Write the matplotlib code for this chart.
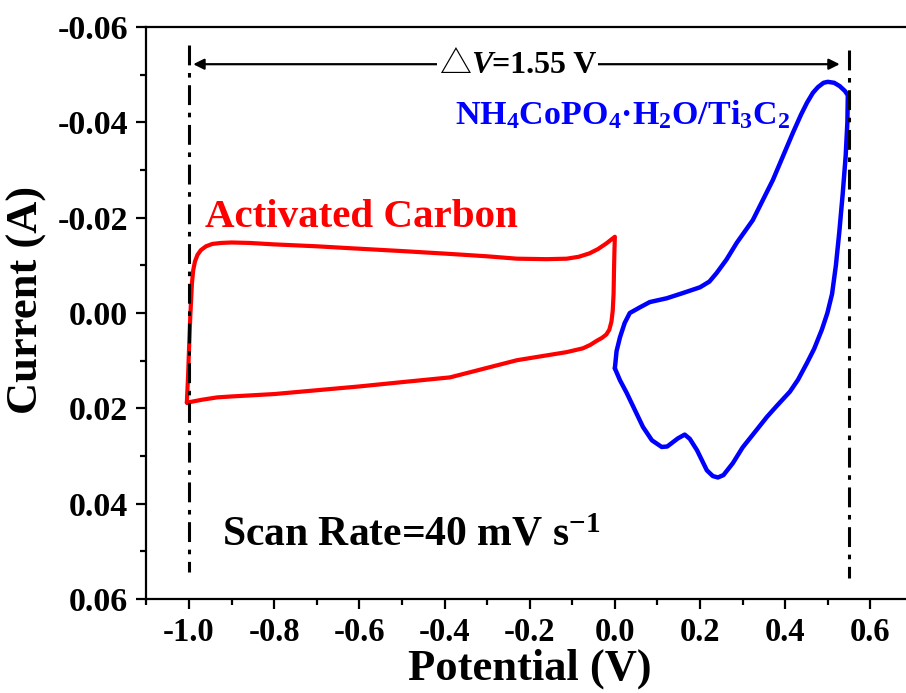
import matplotlib
matplotlib.use("Agg")
import matplotlib.pyplot as plt
from matplotlib.ticker import MultipleLocator, FormatStrFormatter
from matplotlib.offsetbox import TextArea, HPacker, AnnotationBbox

plt.rcParams['font.family'] = ['Liberation Serif', 'DejaVu Serif']
plt.rcParams['font.weight'] = 'bold'
plt.rcParams['axes.unicode_minus'] = False
plt.rcParams['mathtext.fontset'] = 'custom'
plt.rcParams['mathtext.rm'] = 'Liberation Serif:bold'
plt.rcParams['mathtext.it'] = 'Liberation Serif:bold:italic'
plt.rcParams['mathtext.bf'] = 'Liberation Serif:bold'

# Activated carbon CV loop (potential V, current A)
ac_potential = [-1.005, -1.002, -1.000, -0.997, -0.993, -0.990, -0.986, -0.980,
                -0.972, -0.960, -0.945, -0.925, -0.900, -0.857, -0.800, -0.700,
                -0.622, -0.500, -0.387, -0.300, -0.230, -0.160, -0.113, -0.085,
                -0.060, -0.040, -0.020, 0.000, -0.001, -0.002, -0.003, -0.005,
                -0.008, -0.013, -0.020, -0.030, -0.042, -0.058, -0.075, -0.113,
                -0.230, -0.387, -0.500, -0.600, -0.700, -0.800, -0.900, -0.934,
                -0.970, -1.005]
ac_current = [0.0188, 0.0130, 0.0078, 0.0009, -0.0063, -0.0090, -0.0108, -0.0122,
              -0.0132, -0.0140, -0.0145, -0.0147, -0.0148, -0.0147, -0.0144, -0.0140,
              -0.0136, -0.0130, -0.0124, -0.0119, -0.0114, -0.0113, -0.0114, -0.0118,
              -0.0125, -0.0134, -0.0146, -0.0160, -0.0130, -0.0090, -0.0040, -0.0005,
              0.0018, 0.0035, 0.0045, 0.0052, 0.0058, 0.0067, 0.0074, 0.0082,
              0.0099, 0.0135, 0.0145, 0.0154, 0.0162, 0.0170, 0.0175, 0.0177,
              0.0182, 0.0188]

# NH4CoPO4·H2O/Ti3C2 CV loop
nc_potential = [0.000, 0.004, 0.012, 0.023, 0.035, 0.059, 0.082, 0.122,
                0.160, 0.200, 0.222, 0.239, 0.262, 0.286, 0.324, 0.371,
                0.418, 0.437, 0.451, 0.465, 0.477, 0.490, 0.500, 0.515,
                0.528, 0.540, 0.547, 0.546, 0.542, 0.535, 0.527, 0.519,
                0.510, 0.499, 0.486, 0.468, 0.451, 0.430, 0.411, 0.380,
                0.357, 0.333, 0.300, 0.277, 0.255, 0.242, 0.230, 0.216,
                0.193, 0.176, 0.164, 0.148, 0.123, 0.110, 0.087, 0.066,
                0.028, 0.012, 0.000]
nc_current = [0.0116, 0.0080, 0.0051, 0.0021, 0.0000, -0.0012, -0.0023, -0.0031,
              -0.0042, -0.0054, -0.0066, -0.0084, -0.0112, -0.0147, -0.0195, -0.0279,
              -0.0378, -0.0416, -0.0441, -0.0462, -0.0474, -0.0483, -0.0485, -0.0483,
              -0.0476, -0.0466, -0.0457, -0.0400, -0.0330, -0.0250, -0.0170, -0.0100,
              -0.0040, 0.0000, 0.0035, 0.0075, 0.0105, 0.0140, 0.0165, 0.0195,
              0.0218, 0.0245, 0.0282, 0.0315, 0.0340, 0.0345, 0.0342, 0.0330,
              0.0288, 0.0264, 0.0255, 0.0263, 0.0280, 0.0281, 0.0267, 0.0239,
              0.0168, 0.0141, 0.0116]

window_left = -1.0
window_right = 0.55
delta_v = 1.55

fig = plt.figure(figsize=(9.06, 6.93), dpi=100)
ax = fig.add_axes([0.1611, 0.1356, 0.8466, 0.8254])

ax.plot(ac_potential, ac_current, color='#ff0000', lw=3.0,
        solid_joinstyle='round', solid_capstyle='round')
ax.plot(nc_potential, nc_current, color='#0000ff', lw=3.2,
        solid_joinstyle='round', solid_capstyle='round')

# potential window markers
dash = (6.5, 2.5, 1.5, 2.5)
ax.plot([window_left, window_left], [-0.0562, 0.0544], color='black', lw=2.2,
        dashes=dash)
ax.plot([window_right, window_right], [-0.0552, 0.0556], color='black', lw=2.2,
        dashes=dash)

arrow_y = -0.0522
ax.annotate('', xy=(window_left + 0.01, arrow_y), xytext=(0.528, arrow_y),
            arrowprops=dict(arrowstyle='<|-|>', lw=1.6, color='black',
                            mutation_scale=16, shrinkA=0, shrinkB=0))

tsize = 23
label_parts = HPacker(children=[
    TextArea('△', textprops=dict(family=['Noto Sans CJK SC', 'DejaVu Sans'],
                                 fontweight='normal', size=tsize, color='black')),
    TextArea('V', textprops=dict(family='Liberation Serif', fontweight='bold',
                                 fontstyle='italic', size=tsize, color='black')),
    TextArea('=%.2f V' % delta_v, textprops=dict(family='Liberation Serif',
                                                fontweight='bold', size=tsize,
                                                color='black')),
], align='baseline', pad=0, sep=0)
ab = AnnotationBbox(label_parts, (-0.228, arrow_y), xycoords='data',
                    box_alignment=(0.5, 0.5), frameon=True, pad=0.1,
                    bboxprops=dict(facecolor='white', edgecolor='none'))
ax.add_artist(ab)

ax.text(-0.376, -0.0396, 'NH$_4$CoPO$_4$·H$_2$O/Ti$_3$C$_2$', color='#0000ff',
        fontsize=24.5, fontweight='bold', ha='left', va='baseline')
ax.text(-0.962, -0.0180, 'Activated Carbon', color='#ff0000',
        fontsize=29.5, fontweight='bold', ha='left', va='baseline')
ax.text(-0.9225, 0.0487, 'Scan Rate=40 mV s$^{-1}$', color='black',
        fontsize=30, fontweight='bold', ha='left', va='baseline')

ax.set_xlim(-1.101, 0.70)
ax.set_ylim(0.06, -0.06)
ax.xaxis.set_major_locator(MultipleLocator(0.2))
ax.xaxis.set_minor_locator(MultipleLocator(0.1))
ax.yaxis.set_major_locator(MultipleLocator(0.02))
ax.yaxis.set_minor_locator(MultipleLocator(0.01))
ax.xaxis.set_major_formatter(FormatStrFormatter('%.1f'))
ax.yaxis.set_major_formatter(FormatStrFormatter('%.2f'))

ax.tick_params(which='both', direction='out', width=1.6, top=False, right=False)
ax.tick_params(which='major', length=7, pad=6)
ax.tick_params(axis='x', which='major', labelsize=23.5)
ax.tick_params(axis='y', which='major', labelsize=24.5)
ax.tick_params(which='minor', length=4)
for lab in ax.get_xticklabels() + ax.get_yticklabels():
    lab.set_fontweight('bold')

for side in ('left', 'top', 'bottom'):
    ax.spines[side].set_linewidth(1.6)
ax.spines['right'].set_visible(False)

ax.set_xlabel('Potential (V)', fontsize=32, fontweight='bold', labelpad=0)
ax.set_ylabel('Current (A)', fontsize=32, fontweight='bold')
ax.yaxis.set_label_coords(-0.129, 0.523)

fig.savefig('out.png', dpi=100)
